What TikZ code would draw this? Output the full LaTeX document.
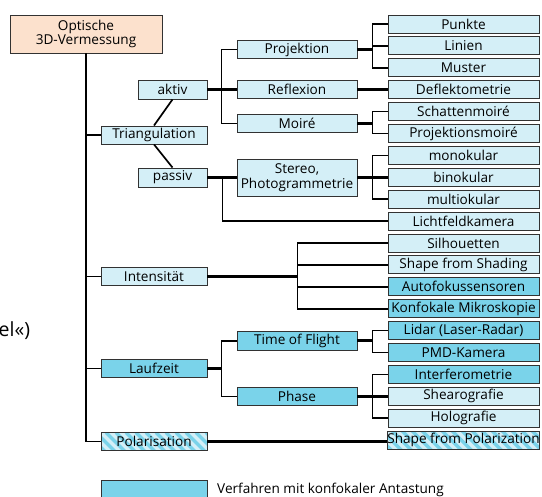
\documentclass[tikz,border=0pt]{standalone}
\usepackage{fontspec}
\setmainfont{Open Sans}
\definecolor{lightc}{RGB}{212,239,247}
\definecolor{darkc}{RGB}{122,211,234}
\definecolor{peach}{RGB}{252,225,205}
\definecolor{bordercol}{RGB}{50,50,50}
\begin{document}
\begin{tikzpicture}[x=1pt,y=-1pt,
  box/.style={draw=bordercol, line width=0.9pt, fill=lightc, inner sep=0pt, align=center,
    font=\fontsize{13.6}{14.5}\selectfont},
  rbox/.style={box, minimum width=151pt, minimum height=18pt},
  mbox/.style={box, minimum width=120pt, minimum height=18.5pt},
  lbox/.style={box, minimum width=106pt, minimum height=18pt},
  sbox/.style={box, minimum width=69pt, minimum height=19pt},
  dark/.style={fill=darkc},
  stripes/.style={fill=lightc, path picture={
    \foreach \k in {0,...,24}{\draw[darkc, line width=3.4pt]
      ([xshift={\k*10pt-25pt}]path picture bounding box.north west) -- ++(24pt,-24pt);}}},
  thinl/.style={line width=1.7pt, black},
  thickl/.style={line width=3pt, black}]
\useasboundingbox (0,0) rectangle (542,497);
\clip (0,0) rectangle (542,497);
% fragment
\node[anchor=west, inner sep=0pt, font=\fontsize{19.5}{21}\selectfont] (frag) at (-1.5,331) {el«)};
% root
\node[box, fill=peach, minimum width=152pt, minimum height=38pt] (root) at (86,34) {Optische\\3D-Vermessung};
% left column
\node[lbox] (tri) at (154,135) {Triangulation};
\node[lbox] (int) at (154,276.5) {Intensität};
\node[lbox, dark] (lauf) at (154,368.5) {Laufzeit};
\node[lbox, stripes] (pol) at (154,441.5) {Polarisation};
\node[sbox] (aktiv) at (172.5,89.5) {aktiv};
\node[sbox] (passiv) at (172.5,177.5) {passiv};
% middle column
\node[mbox] (proj) at (297,49.5) {Projektion};
\node[mbox] (refl) at (297,89.5) {Reflexion};
\node[mbox] (moire) at (297,123.5) {Moiré};
\node[mbox, minimum height=37pt] (stereo) at (297,177.5) {Stereo,\\Photogrammetrie};
\node[mbox, dark] (tof) at (297,341) {Time of Flight};
\node[mbox, dark] (phase) at (297,396.5) {Phase};
% right column
\node[rbox] (punkte) at (463.5,24) {Punkte};
\node[rbox] (linien) at (463.5,45.9) {Linien};
\node[rbox] (muster) at (463.5,67.8) {Muster};
\node[rbox] (defl) at (463.5,89.7) {Deflektometrie};
\node[rbox] (schatten) at (463.5,111.6) {Schattenmoiré};
\node[rbox] (projm) at (463.5,133.5) {Projektionsmoiré};
\node[rbox] (mono) at (463.5,155.4) {monokular};
\node[rbox] (bino) at (463.5,177.3) {binokular};
\node[rbox] (multi) at (463.5,199.2) {multiokular};
\node[rbox] (licht) at (463.5,221.1) {Lichtfeldkamera};
\node[rbox] (silh) at (463.5,243) {Silhouetten};
\node[rbox] (sfs) at (463.5,264.9) {Shape from Shading};
\node[rbox, dark] (auto) at (463.5,286.8) {Autofokussensoren};
\node[rbox, dark] (konf) at (463.5,308.7) {Konfokale Mikroskopie};
\node[rbox, dark] (lidar) at (463.5,330.6) {Lidar (Laser-Radar)};
\node[rbox, dark] (pmd) at (463.5,352.5) {PMD-Kamera};
\node[rbox, dark] (interf) at (463.5,374.4) {Interferometrie};
\node[rbox] (shear) at (463.5,396.3) {Shearografie};
\node[rbox] (holo) at (463.5,418.2) {Holografie};
\node[rbox, stripes] (sfp) at (463.5,440.1) {Shape from Polarization};
% legend
\node[box, dark, minimum width=106pt, minimum height=30pt, anchor=north west] (leg) at (101,480.5) {};
\node[anchor=west, inner sep=0pt, font=\fontsize{13.6}{14.5}\selectfont] (legtext) at (217,490) {Verfahren mit konfokaler Antastung};
% trunk
\draw[thinl] (root.south) -- (root.south |- pol.west) -- (pol.west);
\draw[thinl] (tri.west -| root.south) -- (tri.west);
\draw[thinl] (int.west -| root.south) -- (int.west);
\draw[thinl] (lauf.west -| root.south) -- (lauf.west);
% triangulation
\draw[thinl] (aktiv.south) -- (tri.north);
\draw[thinl] (tri.south) -- (passiv.north);
% aktiv
\draw[thickl] (aktiv.east) -- (refl.west);
\draw[thinl] (proj.west) -- ++(-15,0) |- (moire.west);
\draw[thickl] (proj.east) -- ++(16,0);
\draw[thinl] (punkte.west) -- ++(-15,0) |- (muster.west);
\draw[thinl] (linien.west) -- ++(-15,0);
\draw[thickl] (refl.east) -- (refl.east -| defl.west);
\draw[thickl] (moire.east) -- ++(16,0);
\draw[thinl] (schatten.west) -- ++(-15,0) |- (projm.west);
% passiv
\draw[thickl] (passiv.east) -- (stereo.west);
\draw[thinl] (passiv.east) -- ++(15,0) |- (licht.west);
\draw[thickl] (stereo.east) -- (stereo.east -| bino.west);
\draw[thinl] (mono.west) -- ++(-15,0) |- (multi.west);
% intensitaet
\draw[thickl] (int.east) -- ++(91,0);
\draw[thinl] (silh.west) -- ++(-90,0) |- (konf.west);
\draw[thinl] (sfs.west) -- ++(-90,0);
\draw[thinl] (auto.west) -- ++(-90,0);
% laufzeit
\draw[thickl] (lauf.east) -- ++(15,0);
\draw[thinl] (tof.west) -- ++(-15,0) |- (phase.west);
\draw[thickl] (tof.east) -- ++(16,0);
\draw[thinl] (lidar.west) -- ++(-15,0) |- (pmd.west);
\draw[thickl] (phase.east) -- (phase.east -| shear.west);
\draw[thinl] (interf.west) -- ++(-15,0) |- (holo.west);
% polarisation
\draw[thickl] (pol.east) -- (pol.east -| sfp.west);
\end{tikzpicture}
\end{document}
